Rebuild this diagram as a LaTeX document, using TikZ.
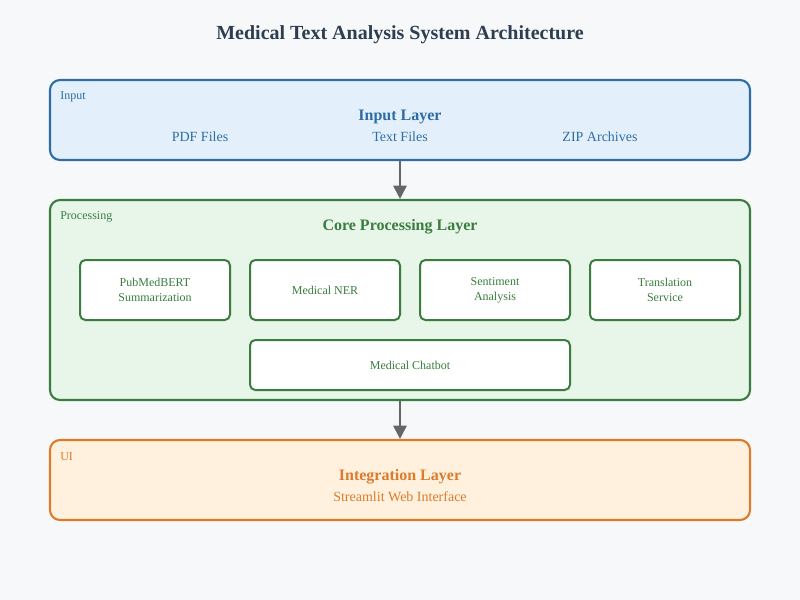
\documentclass[tikz,border=0pt]{standalone}
\usepackage{fontspec}
\setmainfont{Liberation Serif}
\usetikzlibrary{arrows.meta}
\definecolor{bgc}{HTML}{F7F8FA}
\definecolor{bluec}{HTML}{2E6DA4}
\definecolor{bluef}{HTML}{E3F0FB}
\definecolor{greenc}{HTML}{3A7D3E}
\definecolor{greenf}{HTML}{E8F5E9}
\definecolor{orangec}{HTML}{DB7B2B}
\definecolor{orangef}{HTML}{FFF1DE}
\definecolor{titlec}{HTML}{2C3E50}
\definecolor{arrc}{HTML}{666666}
\tikzset{
  layer/.style={draw, line width=1.6pt, rounded corners=7.5pt},
  sub/.style={draw=greenc, fill=white, line width=1.5pt, rounded corners=4pt, text=greenc, font=\fontsize{9}{11}\selectfont, align=center, inner sep=0pt},
  tag/.style={anchor=west, font=\fontsize{9}{10}\selectfont, inner sep=0pt},
  head/.style={font=\bfseries\fontsize{12}{14}\selectfont, inner sep=0pt},
  item/.style={font=\fontsize{10.5}{12}\selectfont, inner sep=0pt},
  flow/.style={draw=arrc, line width=1.5pt, -{Triangle[length=10pt,width=10pt]}}
}
\begin{document}
\begin{tikzpicture}[x=0.75pt,y=-0.75pt]
\fill[bgc] (0,0) rectangle (800,600);
\useasboundingbox (0,0) rectangle (800,600);
\node[font=\bfseries\fontsize{15}{18}\selectfont, text=titlec] (title) at (400,35) {Medical Text Analysis System Architecture};
% Input layer
\node[layer, draw=bluec, fill=bluef, minimum width=525pt, minimum height=60pt, inner sep=0pt] (inp) at (400,120) {};
\node[tag, text=bluec] (inptag) at (60,97) {Input};
\node[head, text=bluec] (inphead) at (400,117) {Input Layer};
\node[item, text=bluec] (pdf) at (200,137) {PDF Files};
\node[item, text=bluec] (txt) at (400,137) {Text Files};
\node[item, text=bluec] (zip) at (600,137) {ZIP Archives};
% Processing layer
\node[layer, draw=greenc, fill=greenf, minimum width=525pt, minimum height=150pt, inner sep=0pt] (proc) at (400,300) {};
\node[tag, text=greenc] (proctag) at (60,217) {Processing};
\node[head, text=greenc] (prochead) at (400,227) {Core Processing Layer};
\node[sub, minimum width=112.5pt, minimum height=45pt] (sum) at (155,290) {PubMedBERT\\Summarization};
\node[sub, minimum width=112.5pt, minimum height=45pt] (ner) at (325,290) {Medical NER};
\node[sub, minimum width=112.5pt, minimum height=45pt] (sent) at (495,290) {Sentiment\\Analysis};
\node[sub, minimum width=112.5pt, minimum height=45pt] (trans) at (665,290) {Translation\\Service};
\node[sub, minimum width=240pt, minimum height=37.5pt] (chat) at (410,365) {Medical Chatbot};
% UI layer
\node[layer, draw=orangec, fill=orangef, minimum width=525pt, minimum height=60pt, inner sep=0pt] (ui) at (400,480) {};
\node[tag, text=orangec] (uitag) at (60,457) {UI};
\node[head, text=orangec] (uihead) at (400,477) {Integration Layer};
\node[item, text=orangec] (web) at (400,497) {Streamlit Web Interface};
% arrows
\draw[flow] (inp.south) -- (proc.north);
\draw[flow] (proc.south) -- (ui.north);
\end{tikzpicture}
\end{document}
